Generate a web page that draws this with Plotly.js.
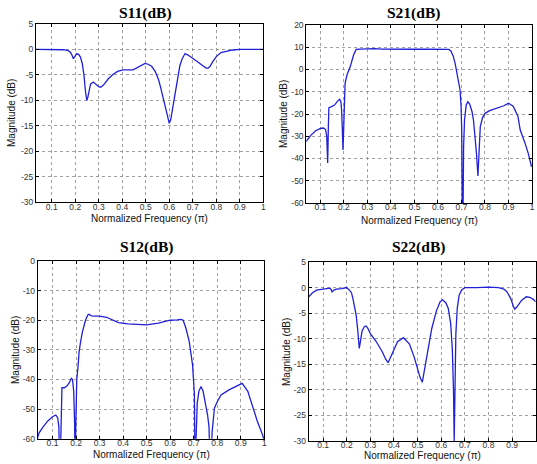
<!DOCTYPE html>
<html>
<head>
<meta charset="utf-8">
<script src="https://cdn.plot.ly/plotly-3.0.1.min.js"></script>
<style>html,body{margin:0;padding:0;background:#fff;} #chart{width:537px;height:464px;}</style>
</head>
<body>
<div id="chart"></div>
<script>
// ---- data ----
const panelTitles = ["S11(dB)", "S21(dB)", "S12(dB)", "S22(dB)"];
const xTitle = "Normalized Frequency (π)";
const yTitle = "Magnitude (dB)";
const xTickVals = [0.1, 0.2, 0.3, 0.4, 0.5, 0.6, 0.7, 0.8, 0.9, 1];
const xTickText = ["0.1", "0.2", "0.3", "0.4", "0.5", "0.6", "0.7", "0.8", "0.9", "1"];
const yTicksA = [5, 0, -5, -10, -15, -20, -25, -30];
const yTicksB = [20, 10, 0, -10, -20, -30, -40, -50, -60];
const yTicksC = [0, -10, -20, -30, -40, -50, -60];

const s11Freq = [0.033,0.1,0.15,0.17,0.18,0.186,0.192,0.198,0.206,0.215,0.222,0.23,0.237,0.243,0.249,0.253,0.258,0.265,0.277,0.29,0.3,0.308,0.32,0.34,0.36,0.38,0.403,0.446,0.47,0.485,0.497,0.51,0.525,0.54,0.555,0.565,0.575,0.585,0.594,0.6,0.606,0.615,0.625,0.635,0.645,0.655,0.667,0.68,0.7,0.72,0.74,0.755,0.764,0.772,0.785,0.8,0.82,0.845,0.87,0.9,0.95,1.0];
const s11Mag  = [0,0,-0.05,-0.2,-0.6,-1.1,-1.8,-1.4,-0.8,-1.0,-1.5,-2.8,-5,-8,-10,-9.5,-8,-6.8,-6.4,-6.9,-7.3,-7.4,-7.0,-5.8,-4.9,-4.3,-4.0,-4.0,-3.4,-3.0,-2.75,-2.9,-3.3,-4.3,-6,-7.8,-9.8,-12,-13.8,-14.5,-13.8,-11.3,-8,-5.2,-3.2,-1.8,-0.8,-1.1,-1.7,-2.4,-3.1,-3.6,-3.7,-3.4,-2.4,-1.4,-0.6,-0.3,-0.1,0,0,0];

const s21Freq = [0.039,0.06,0.08,0.1,0.113,0.122,0.127,0.131,0.134,0.136,0.145,0.16,0.175,0.182,0.187,0.19,0.193,0.196,0.198,0.201,0.205,0.213,0.227,0.241,0.252,0.27,0.29,0.311,0.33,0.36,0.4,0.45,0.5,0.55,0.6,0.63,0.646,0.655,0.665,0.673,0.682,0.689,0.694,0.698,0.701,0.704,0.706,0.709,0.713,0.72,0.727,0.735,0.745,0.751,0.758,0.764,0.77,0.774,0.78,0.79,0.8,0.82,0.85,0.88,0.9,0.92,0.94,0.95,0.97,0.985,0.998];
const s21Mag  = [-32.4,-29.5,-27.5,-26.5,-26.3,-27,-30,-42,-25,-17.2,-16.8,-16,-14,-13.4,-14.5,-18,-26,-36.2,-30,-22.7,-6.2,-2.5,1.3,6.5,9.0,9.2,9.3,9.5,9.4,9.2,9.1,9.0,9.1,9.1,9.1,9.1,9.0,8.3,6.0,2.8,-2,-6,-9.2,-16,-27,-75,-75,-35,-22.7,-16,-14.5,-15.5,-19,-22.7,-30,-38,-47.9,-35,-25.7,-21.5,-19.7,-18.5,-17.5,-16.3,-15.2,-16.5,-21,-27.2,-33,-38,-43.7];

const s12Freq = [0.035,0.043,0.06,0.08,0.1,0.114,0.122,0.127,0.131,0.134,0.137,0.14,0.15,0.16,0.172,0.18,0.185,0.19,0.194,0.196,0.199,0.203,0.208,0.213,0.22,0.227,0.24,0.25,0.255,0.265,0.28,0.3,0.33,0.35,0.38,0.42,0.45,0.5,0.55,0.6,0.63,0.646,0.655,0.667,0.681,0.695,0.703,0.706,0.71,0.715,0.722,0.731,0.74,0.75,0.759,0.765,0.772,0.778,0.783,0.788,0.8,0.816,0.85,0.88,0.906,0.93,0.951,0.97,0.994,1.0];
const s12Mag  = [-60,-58,-56,-54,-52.6,-52,-53,-56,-75,-60,-45,-42.8,-42.8,-42.3,-41,-39.6,-40,-44,-55,-75,-55,-40,-36,-30.6,-27,-23.9,-20,-18.2,-18,-18.5,-18.6,-18.6,-19,-19.8,-20.8,-21.2,-21.3,-21.6,-21,-20,-19.9,-19.7,-20,-22.7,-27.2,-35,-45,-75,-60,-48,-44,-42.4,-44,-48,-52,-56,-75,-58,-52,-49.7,-47.5,-45.2,-43.5,-42.3,-41.3,-44,-49.7,-54,-59,-61];

const s22Freq = [0.039,0.055,0.072,0.1,0.129,0.134,0.138,0.145,0.156,0.18,0.198,0.21,0.22,0.226,0.233,0.24,0.247,0.253,0.258,0.265,0.275,0.282,0.29,0.3,0.324,0.35,0.365,0.375,0.39,0.415,0.44,0.465,0.485,0.5,0.51,0.52,0.53,0.545,0.56,0.58,0.595,0.606,0.62,0.63,0.64,0.647,0.652,0.655,0.658,0.662,0.668,0.676,0.686,0.7,0.75,0.8,0.843,0.865,0.878,0.895,0.905,0.911,0.92,0.94,0.96,0.975,0.99,1.0];
const s22Mag  = [-1.8,-1.0,-0.5,-0.3,-0.1,-0.4,-0.9,-0.5,-0.3,-0.2,0,-0.4,-1.0,-2.1,-3.5,-5.4,-8.5,-11.9,-10.5,-8.5,-7.6,-7.5,-8,-9,-10.5,-12.5,-14,-14.7,-13.2,-10.6,-9.8,-11,-13.5,-15.8,-17.5,-18.5,-16,-12,-8,-4.5,-2.8,-2.4,-3,-4.1,-7,-12,-20,-30,-18,-9,-4,-1.5,-0.5,0,0,0.1,0,-0.3,-0.8,-2.2,-3.6,-4.2,-3.8,-2.5,-1.8,-1.9,-2.3,-2.8];

// ---- layout helpers ----
const W = 537, H = 464;
const panels = [
  {x0:36, x1:263.3, y0:24, y1:202.3, xr:[0.033,1], yr:[-30,5], yt:yTicksA, fx:s11Freq, fy:s11Mag, title:[145,12.7], xt:[149.5,218], ytl:[12,113]},
  {x0:306.3, x1:532, y0:25, y1:203, xr:[0.04,1], yr:[-60,20], yt:yTicksB, fx:s21Freq, fy:s21Mag, title:[413,12.7], xt:[419,220.5], ytl:[283,114]},
  {x0:37.7, x1:264.3, y0:261, y1:438.7, xr:[0.037,1], yr:[-60,0], yt:yTicksC, fx:s12Freq, fy:s12Mag, title:[146.7,247], xt:[151,454], ytl:[15,350]},
  {x0:308.7, x1:535.7, y0:262, y1:441, xr:[0.039,1], yr:[-30,5], yt:yTicksA, fx:s22Freq, fy:s22Mag, title:[418.7,247], xt:[422,455.5], ytl:[286,352]}
];

const traces = [];
const layout = {
  width: W, height: H,
  margin: {l:0, r:0, t:0, b:0},
  paper_bgcolor: '#fff', plot_bgcolor: '#fff',
  showlegend: false,
  annotations: []
};
const tickFont = {family: 'Liberation Sans, Arial, sans-serif', size: 8.5, color: '#333'};
const labFont = {family: 'Liberation Sans, Arial, sans-serif', size: 10, color: '#111'};

panels.forEach((p, i) => {
  const n = i === 0 ? '' : String(i + 1);
  traces.push({
    x: p.fx, y: p.fy, type: 'scatter', mode: 'lines',
    xaxis: 'x' + n, yaxis: 'y' + n,
    line: {color: '#2020d8', width: 1.3}, hoverinfo: 'skip'
  });
  const common = {
    showline: true, linecolor: '#000', linewidth: 1, mirror: 'ticks',
    ticks: 'inside', ticklen: 3, tickcolor: '#000',
    showgrid: true, gridcolor: '#888', griddash: 'dot', gridwidth: 0.8,
    zeroline: false, tickfont: tickFont, fixedrange: true
  };
  layout['xaxis' + n] = Object.assign({}, common, {
    domain: [p.x0 / W, p.x1 / W], range: p.xr, anchor: 'y' + n,
    tickmode: 'array', tickvals: xTickVals, ticktext: xTickText,
    ticklabelstandoff: -4
  });
  layout['yaxis' + n] = Object.assign({}, common, {
    domain: [1 - p.y1 / H, 1 - p.y0 / H], range: p.yr, anchor: 'x' + n,
    tickmode: 'array', tickvals: p.yt, ticktext: p.yt.map(v => String(v))
  });
  layout.annotations.push({
    text: '<b>' + panelTitles[i] + '</b>', xref: 'paper', yref: 'paper',
    x: p.title[0] / W, y: 1 - p.title[1] / H, xanchor: 'center', yanchor: 'middle',
    showarrow: false, font: {family: 'Liberation Serif, Times New Roman, serif', size: 15.5, color: '#000'}
  });
  layout.annotations.push({
    text: xTitle, xref: 'paper', yref: 'paper',
    x: p.xt[0] / W, y: 1 - p.xt[1] / H, xanchor: 'center', yanchor: 'middle',
    showarrow: false, font: labFont
  });
  layout.annotations.push({
    text: yTitle, xref: 'paper', yref: 'paper', textangle: -90,
    x: p.ytl[0] / W, y: 1 - p.ytl[1] / H, xanchor: 'center', yanchor: 'middle',
    showarrow: false, font: labFont
  });
});

Plotly.newPlot('chart', traces, layout, {staticPlot: true, displayModeBar: false});
</script>
</body>
</html>
